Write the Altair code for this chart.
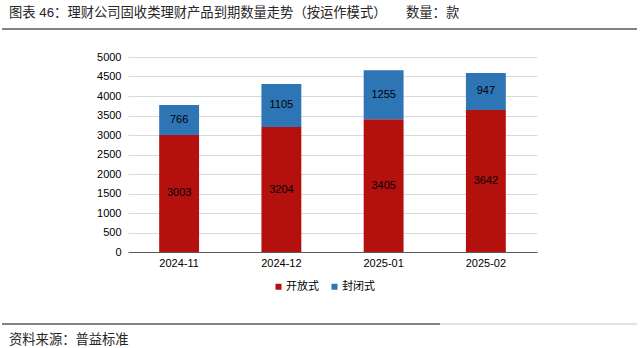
import altair as alt
import pandas as pd

months = ["2024-11", "2024-12", "2025-01", "2025-02"]
open_vals = [3003, 3204, 3405, 3642]
closed_vals = [766, 1105, 1255, 947]
series = ["开放式", "封闭式"]
colors = ["#B4100E", "#2E75B6"]
y_ticks = [0, 500, 1000, 1500, 2000, 2500, 3000, 3500, 4000, 4500, 5000]
title_text = "图表 46：理财公司固收类理财产品到期数量走势（按运作模式）"
unit_text = "数量：款"
source_text = "资料来源：普益标准"

rows = []
for m, o, c in zip(months, open_vals, closed_vals):
    rows.append({"month": m, "type": series[0], "value": o, "ord": 0})
    rows.append({"month": m, "type": series[1], "value": c, "ord": 1})
df = pd.DataFrame(rows)

FONT_NUM = "Liberation Sans, Arial, sans-serif"
FONT_CJK = "'Noto Sans CJK SC', sans-serif"
FONT_MIX = "Liberation Sans, 'Noto Sans CJK SC', sans-serif"

L, T = 128, 57
W, H = 409, 195

x_axis = alt.Axis(title=None, labelAngle=0, ticks=False, domainColor="#595959",
                  domainWidth=1, labelFont=FONT_NUM, labelFontSize=11,
                  labelColor="#000000", labelPadding=5, grid=False)
y_axis = alt.Axis(title=None, values=y_ticks, format="d", grid=True,
                  gridColor="#D9D9D9", gridWidth=1,
                  domain=False, ticks=False, labelFont=FONT_NUM,
                  labelFontSize=11, labelColor="#000000", labelPadding=7,
                  labelOverlap=False)
x_scale = alt.Scale(paddingInner=0.61, paddingOuter=0.305)
y_scale = alt.Scale(domain=[0, 5000])

base = alt.Chart(df).transform_stack(
    stack="value", groupby=["month"],
    sort=[alt.SortField("ord", order="ascending")],
    as_=["y0", "y1"],
).transform_calculate(mid="(datum.y0 + datum.y1) / 2")

bars = base.mark_bar().encode(
    x=alt.X("month:N", sort=months, scale=x_scale, axis=x_axis),
    y=alt.Y("y0:Q", scale=y_scale, axis=y_axis),
    y2="y1:Q",
    color=alt.Color("type:N", scale=alt.Scale(domain=series, range=colors),
                    legend=alt.Legend(title=None, orient="none", legendX=145, legendY=224,
                                      direction="horizontal", symbolType="square",
                                      symbolSize=36, labelFont=FONT_CJK, labelFontSize=11,
                                      labelColor="#000000",
                                      labelOffset=2, symbolStrokeWidth=0)),
)

labels = base.mark_text(font=FONT_NUM, fontSize=11, color="#000000").encode(
    x=alt.X("month:N", sort=months, scale=x_scale, axis=x_axis),
    y=alt.Y("mid:Q", scale=y_scale, axis=y_axis),
    text=alt.Text("value:Q"),
)

one = pd.DataFrame({"a": [0]})

title = alt.Chart(pd.DataFrame({"t": [title_text]})).mark_text(
    align="left", baseline="middle", font=FONT_MIX, fontSize=13.3, color="#262626"
).encode(text="t:N", x=alt.value(9 - L), y=alt.value(13 - T))

unit = alt.Chart(pd.DataFrame({"t": [unit_text]})).mark_text(
    align="left", baseline="middle", font=FONT_CJK, fontSize=13.3, color="#262626"
).encode(text="t:N", x=alt.value(406 - L), y=alt.value(13 - T))

top_rule = alt.Chart(one).mark_rule(color="#595959", strokeWidth=1.5).encode(
    x=alt.value(2 - L), x2=alt.value(637 - L), y=alt.value(29 - T))

bot_rule1 = alt.Chart(one).mark_rule(color="#595959", strokeWidth=1.5).encode(
    x=alt.value(2 - L), x2=alt.value(440 - L), y=alt.value(324 - T))
bot_rule2 = alt.Chart(one).mark_rule(color="#D9D9D9", strokeWidth=1.5).encode(
    x=alt.value(440 - L), x2=alt.value(637 - L), y=alt.value(324 - T))

source = alt.Chart(pd.DataFrame({"t": [source_text]})).mark_text(
    align="left", baseline="middle", font=FONT_CJK, fontSize=13.3, color="#262626"
).encode(text="t:N", x=alt.value(9 - L), y=alt.value(340 - T))

chart = alt.layer(bars, labels, title, unit, top_rule, bot_rule1, bot_rule2, source).properties(
    width=W, height=H,
    autosize=alt.AutoSizeParams(type="none"),
    padding={"left": L, "top": T, "right": 640 - L - W, "bottom": 348 - T - H},
).configure(background="white").configure_view(stroke=None).configure_legend(columnPadding=10)

chart.save("out.html", embed_options={"renderer": "svg", "actions": False})
